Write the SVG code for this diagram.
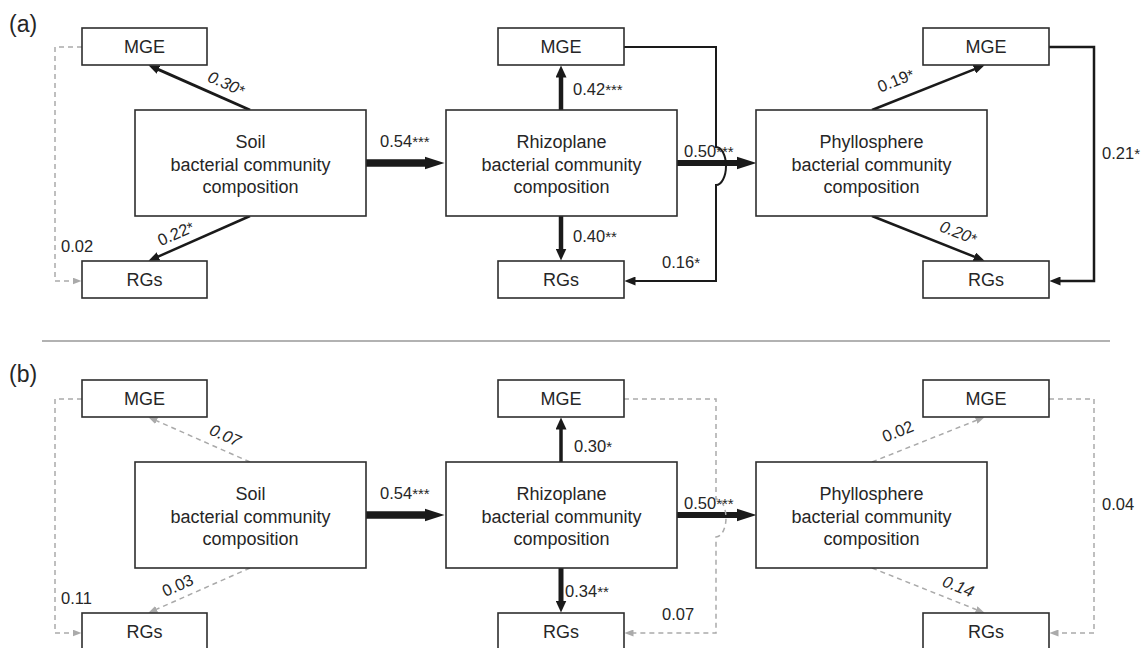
<svg xmlns="http://www.w3.org/2000/svg" width="1143" height="648" viewBox="0 0 1143 648">
<style>
text{font-family:"Liberation Sans",Arial,sans-serif;fill:#262626}
.box{fill:#fff;stroke:#2e2e2e;stroke-width:1.6}
.nt{font-size:18px;text-anchor:middle}
.lb{font-size:16.5px}
.lc{font-size:16.5px;text-anchor:middle}
.st{font-size:15px}
.it{font-style:italic}
.pl{font-size:23px}
.c{fill:none;stroke:#1a1a1a}
.d{fill:none;stroke:#aaa;stroke-width:1.5;stroke-dasharray:5,4}
</style>
<defs>
<marker id="hBig" markerUnits="userSpaceOnUse" markerWidth="20" markerHeight="14" refX="0.5" refY="7" orient="auto"><path d="M0,0.5 L20,7 L0,13.5z" fill="#1a1a1a"/></marker>
<marker id="hMed" markerUnits="userSpaceOnUse" markerWidth="12" markerHeight="11" refX="0.5" refY="5.5" orient="auto"><path d="M0,0 L12,5.5 L0,11z" fill="#1a1a1a"/></marker>
<marker id="hSm" markerUnits="userSpaceOnUse" markerWidth="11" markerHeight="9" refX="0.5" refY="4.5" orient="auto"><path d="M0,0 L11,4.5 L0,9z" fill="#1a1a1a"/></marker>
<marker id="hGray" markerUnits="userSpaceOnUse" markerWidth="9" markerHeight="7" refX="0.5" refY="3.5" orient="auto"><path d="M0,0 L9,3.5 L0,7z" fill="#aaa"/></marker>
</defs>
<rect width="1143" height="648" fill="#fff"/>

<text class="pl" x="9" y="32">(a)</text>
<text class="pl" x="9" y="382">(b)</text>
<line x1="42" y1="341" x2="1110" y2="341" stroke="#999" stroke-width="1.5"/>

<g id="connectors">
<!-- panel a -->
<path class="c" stroke-width="3" d="M250,110 L158.1,69.4" marker-end="url(#hSm)"/>
<path class="c" stroke-width="2.5" d="M250,216 L158.1,256.6" marker-end="url(#hSm)"/>
<path class="d" d="M82,47 H55 V281 H73" marker-end="url(#hGray)"/>
<path class="c" stroke-width="7.5" d="M366,163 H425" marker-end="url(#hBig)"/>
<path class="c" stroke-width="4.5" d="M561,110 V77" marker-end="url(#hMed)"/>
<path class="c" stroke-width="4.5" d="M561,216 V249" marker-end="url(#hMed)"/>
<path class="c" stroke-width="6" d="M677,163 H737" marker-end="url(#hBig)"/>
<path class="c" stroke-width="2" d="M624,47 H716 V147 A10,19 0 0 1 716,185 V281 H635" marker-end="url(#hSm)"/>
<path class="c" stroke-width="2.5" d="M872,110 L974.8,69.1" marker-end="url(#hSm)"/>
<path class="c" stroke-width="2.5" d="M872,216 L974.8,256.9" marker-end="url(#hSm)"/>
<path class="c" stroke-width="2.5" d="M1049,47 H1094 V281 H1060" marker-end="url(#hSm)"/>
<!-- panel b -->
<path class="d" d="M250,462 L156.2,420.6" marker-end="url(#hGray)"/>
<path class="d" d="M250,568 L156.2,609.4" marker-end="url(#hGray)"/>
<path class="d" d="M82,399 H55 V633 H73" marker-end="url(#hGray)"/>
<path class="c" stroke-width="7.5" d="M366,515 H425" marker-end="url(#hBig)"/>
<path class="c" stroke-width="3.5" d="M561,462 V429" marker-end="url(#hMed)"/>
<path class="c" stroke-width="5" d="M561,568 V601" marker-end="url(#hMed)"/>
<path class="c" stroke-width="6" d="M677,515 H737" marker-end="url(#hBig)"/>
<path class="d" d="M624,399 H716 V499 A10,19 0 0 1 716,537 V633 H633" marker-end="url(#hGray)"/>
<path class="d" d="M872,462 L976.6,420.3" marker-end="url(#hGray)"/>
<path class="d" d="M872,568 L976.6,609.7" marker-end="url(#hGray)"/>
<path class="d" d="M1049,399 H1094 V633 H1058" marker-end="url(#hGray)"/>

<!-- labels panel a -->
<text class="lc it" transform="translate(226,84) rotate(23.8)" y="5">0.30<tspan class="st">*</tspan></text>
<text class="lc" transform="translate(176,234) rotate(-23.8)" y="5">0.22<tspan class="st">*</tspan></text>
<text class="lb" x="61" y="252">0.02</text>
<text class="lb" x="380" y="147">0.54<tspan class="st">***</tspan></text>
<text class="lb" x="573" y="95">0.42<tspan class="st">***</tspan></text>
<text class="lb" x="573" y="242">0.40<tspan class="st">**</tspan></text>
<text class="lb" x="684" y="157">0.50<tspan class="st">***</tspan></text>
<text class="lb" x="662" y="268">0.16<tspan class="st">*</tspan></text>
<text class="lc" transform="translate(896,81) rotate(-21.7)" y="5">0.19<tspan class="st">*</tspan></text>
<text class="lc it" transform="translate(958,233) rotate(21.7)" y="5">0.20<tspan class="st">*</tspan></text>
<text class="lb" x="1102" y="159">0.21<tspan class="st">*</tspan></text>
<!-- labels panel b -->
<text class="lc it" transform="translate(225,436) rotate(23.8)" y="5">0.07</text>
<text class="lc" transform="translate(178,586) rotate(-23.8)" y="5">0.03</text>
<text class="lb" x="61" y="604">0.11</text>
<text class="lb" x="380" y="499">0.54<tspan class="st">***</tspan></text>
<text class="lb" x="574" y="452">0.30<tspan class="st">*</tspan></text>
<text class="lb" x="565" y="597">0.34<tspan class="st">**</tspan></text>
<text class="lb" x="684" y="509">0.50<tspan class="st">***</tspan></text>
<text class="lb" x="662" y="620">0.07</text>
<text class="lc" transform="translate(898,432) rotate(-21.7)" y="5">0.02</text>
<text class="lc it" transform="translate(958,587) rotate(21.7)" y="5">0.14</text>
<text class="lb" x="1102" y="510">0.04</text>
</g>

<!-- panel a nodes -->
<g id="a-soil-mge"><rect class="box" x="82" y="28" width="125" height="37"/><text class="nt" x="144.5" y="53">MGE</text></g>
<g id="a-soil"><rect class="box" x="135" y="110" width="231" height="106"/><text class="nt" x="250.5" y="148">Soil</text><text class="nt" x="250.5" y="170.5">bacterial community</text><text class="nt" x="250.5" y="193">composition</text></g>
<g id="a-soil-rgs"><rect class="box" x="82" y="261" width="125" height="37"/><text class="nt" x="144.5" y="286">RGs</text></g>
<g id="a-rhizo-mge"><rect class="box" x="498" y="28" width="126" height="37"/><text class="nt" x="561" y="53">MGE</text></g>
<g id="a-rhizo"><rect class="box" x="446" y="110" width="231" height="106"/><text class="nt" x="561.5" y="148">Rhizoplane</text><text class="nt" x="561.5" y="170.5">bacterial community</text><text class="nt" x="561.5" y="193">composition</text></g>
<g id="a-rhizo-rgs"><rect class="box" x="498" y="261" width="126" height="37"/><text class="nt" x="561" y="286">RGs</text></g>
<g id="a-phyllo-mge"><rect class="box" x="923" y="28" width="126" height="37"/><text class="nt" x="986" y="53">MGE</text></g>
<g id="a-phyllo"><rect class="box" x="756" y="110" width="231" height="106"/><text class="nt" x="871.5" y="148">Phyllosphere</text><text class="nt" x="871.5" y="170.5">bacterial community</text><text class="nt" x="871.5" y="193">composition</text></g>
<g id="a-phyllo-rgs"><rect class="box" x="923" y="261" width="126" height="37"/><text class="nt" x="986" y="286">RGs</text></g>

<!-- panel b nodes -->
<g id="b-soil-mge"><rect class="box" x="82" y="380" width="125" height="37"/><text class="nt" x="144.5" y="405">MGE</text></g>
<g id="b-soil"><rect class="box" x="135" y="462" width="231" height="106"/><text class="nt" x="250.5" y="500">Soil</text><text class="nt" x="250.5" y="522.5">bacterial community</text><text class="nt" x="250.5" y="545">composition</text></g>
<g id="b-soil-rgs"><rect class="box" x="82" y="613" width="125" height="37"/><text class="nt" x="144.5" y="638">RGs</text></g>
<g id="b-rhizo-mge"><rect class="box" x="498" y="380" width="126" height="37"/><text class="nt" x="561" y="405">MGE</text></g>
<g id="b-rhizo"><rect class="box" x="446" y="462" width="231" height="106"/><text class="nt" x="561.5" y="500">Rhizoplane</text><text class="nt" x="561.5" y="522.5">bacterial community</text><text class="nt" x="561.5" y="545">composition</text></g>
<g id="b-rhizo-rgs"><rect class="box" x="498" y="613" width="126" height="37"/><text class="nt" x="561" y="638">RGs</text></g>
<g id="b-phyllo-mge"><rect class="box" x="923" y="380" width="126" height="37"/><text class="nt" x="986" y="405">MGE</text></g>
<g id="b-phyllo"><rect class="box" x="756" y="462" width="231" height="106"/><text class="nt" x="871.5" y="500">Phyllosphere</text><text class="nt" x="871.5" y="522.5">bacterial community</text><text class="nt" x="871.5" y="545">composition</text></g>
<g id="b-phyllo-rgs"><rect class="box" x="923" y="613" width="126" height="37"/><text class="nt" x="986" y="638">RGs</text></g>
</svg>
